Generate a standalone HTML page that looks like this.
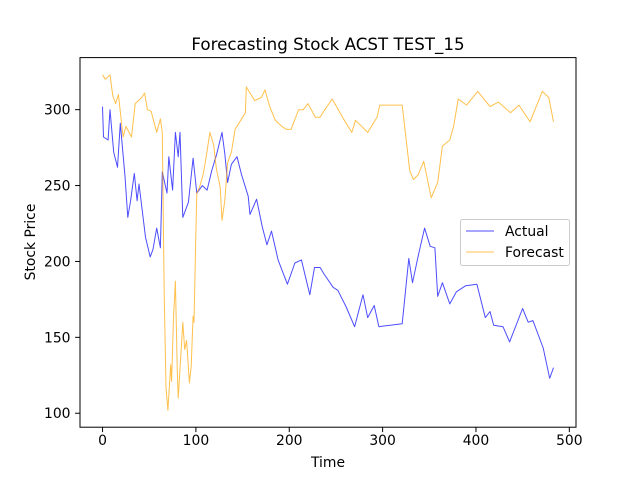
<!DOCTYPE html>
<html><head><meta charset="utf-8"><style>body{margin:0;background:#fff}svg{display:block;font-family:"DejaVu Sans","Liberation Sans",sans-serif}</style></head>
<body>
<svg id="c" width="640" height="480"></svg>
<script>
const actualIdx=[0,1,6,8,12,16,19,24,27,30,34,37,39,46,51,54,58,62,64,69,71,75,78,81,83,86,92,97,101,107,112,117,122,128,131,134,138,144,149,156,158,165,171,176,181,188,198,206,213,222,227,233,237,247,252,261,270,279,284,291,296,321,328,332,339,345,351,356,359,364,372,379,389,401,410,415,419,429,436,450,456,461,472,479,483];
const actualVal=[302,282,280,300,272,262,291,256,229,240,258,240,251,216,203,208,222,209,259,245,269,247,285,269,285,229,239,268,245,250,247,260,270,285,271,252,264,269,257,243,231,241,223,211,220,201,185,199,201,178,196,196,192,183,181,170,157,178,163,171,157,159,202,186,206,222,210,209,177,186,172,180,184,185,163,167,158,157,147,169,160,161,143,123,130];
const forecastIdx=[0,3,8,11,14,17,22,25,31,35,42,45,48,52,58,62,64,66,68,70,73,74,76,78,80,81,84,86,88,90,93,95,97,98,100,101,104,108,111,115,119,122,126,128,131,134,138,142,147,153,154,158,163,170,174,179,185,192,197,202,210,215,220,228,233,237,246,259,267,271,284,294,297,321,329,333,338,344,352,359,364,372,376,381,390,402,415,424,437,446,458,471,478,483];
const forecastVal=[323,320,323,309,304,310,282,289,282,304,308,311,300,299,285,294,285,179,117,102,132,121,163,187,130,110,140,160,142,148,120,131,164,160,220,245,249,258,269,285,277,261,249,227,240,265,272,287,292,298,315,311,306,308,313,302,293,289,287,287,300,300,304,295,295,299,307,293,285,293,285,295,303,303,260,254,257,266,242,252,276,280,289,307,303,312,302,305,298,303,292,312,308,292];
const xTicks=[0,100,200,300,400,500];
const yTicks=[100,150,200,250,300];
const L=80,R=576,T=57.6,B=427.2,x0=-24.15,x1=507.15,y0=90.8,y1=334.3;
const X=v=>L+(v-x0)/(x1-x0)*(R-L);
const Y=v=>B-(v-y0)/(y1-y0)*(B-T);
const s=document.getElementById('c');const NS='http://www.w3.org/2000/svg';
function mk(t,a,p){const e=document.createElementNS(NS,t);for(const k in a)e.setAttribute(k,a[k]);(p||s).appendChild(e);return e;}
function line(idx,val,col,name){const d=idx.map((v,i)=>(i?'L':'M')+X(v).toFixed(1)+','+Y(val[i]).toFixed(1)).join('');
const p=mk('path',{d:d,fill:'none',stroke:col,'stroke-width':1,'stroke-opacity':0.7,'stroke-linejoin':'round'});

}
line(actualIdx,actualVal,'blue','actual-line');
line(forecastIdx,forecastVal,'orange','forecast-line');
const fr=mk('rect',{x:L,y:T,width:R-L,height:B-T,fill:'none',stroke:'#000','stroke-width':1});


xTicks.forEach(v=>{mk('line',{x1:X(v),x2:X(v),y1:B,y2:B+4.9,stroke:'#000','stroke-width':1});
const t=mk('text',{x:X(v),y:B+18,'font-size':13.9,'text-anchor':'middle'});t.textContent=v;

});
yTicks.forEach(v=>{mk('line',{x1:L-4.9,x2:L,y1:Y(v),y2:Y(v),stroke:'#000','stroke-width':1});
const t=mk('text',{x:L-9.5,y:Y(v)+5,'font-size':13.9,'text-anchor':'end'});t.textContent=v;

});
</script>
<svg width="640" height="480" style="position:absolute;left:0;top:0">
<text x="328" y="50" font-size="16.7" text-anchor="middle">Forecasting Stock ACST TEST_15</text>
<text x="328" y="467" font-size="13.9" text-anchor="middle">Time</text>
<text x="35" y="242" font-size="13.9" text-anchor="middle" transform="rotate(-90 35 242)">Stock Price</text>
<g>
<rect x="460.5" y="219.5" width="109" height="46" rx="2" fill="#fff" fill-opacity="0.8" stroke="#ccc" stroke-width="1"/>
<line x1="466" x2="494" y1="231" y2="231" stroke="blue" stroke-opacity="0.7" stroke-width="1"/>
<text x="505" y="236" font-size="13.9">Actual</text>
<line x1="466" x2="494" y1="252" y2="252" stroke="orange" stroke-opacity="0.7" stroke-width="1"/>
<text x="505" y="257" font-size="13.9">Forecast</text>
</g>
</svg>
</body></html>
